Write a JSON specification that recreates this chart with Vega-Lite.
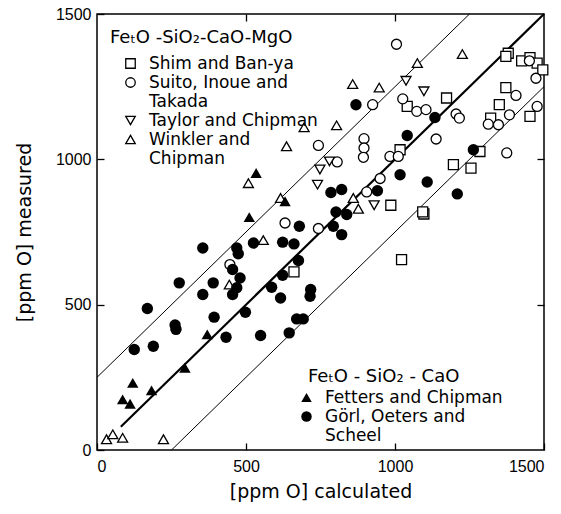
{
  "$schema": "https://vega.github.io/schema/vega-lite/v6.json",
  "width": 447,
  "height": 436,
  "autosize": "none",
  "padding": {"left": 97, "top": 14, "right": 17, "bottom": 64},
  "background": "white",
  "config": {
    "view": {"stroke": "black", "strokeWidth": 1.5},
    "font": "DejaVu Sans",
    "axis": {
      "grid": false, "domain": false, "ticks": true, "tickColor": "black", "tickOpacity": 1, "tickSize": 7, "offset": -7, "tickWidth": 1.3, "zindex": 1,
      "labelColor": "black", "labelFont": "Liberation Sans", "labelFontSize": 16, "format": "d",
      "titleColor": "black", "titleFont": "DejaVu Sans", "titleFontSize": 19, "titleFontWeight": "normal"
    },
    "legend": {
      "titleFont": "DejaVu Sans", "titleFontWeight": "normal", "titleColor": "black", "titleFontSize": 18,
      "labelFont": "DejaVu Sans", "labelColor": "black", "labelFontSize": 17, "labelLimit": 300,
      "padding": 0, "titleLimit": 300
    }
  },
  "datasets": {
    "lines": [
      {"line": "center", "x": 80, "y": 80}, {"line": "center", "x": 1500, "y": 1500},
      {"line": "upper", "x": 0, "y": 250}, {"line": "upper", "x": 1250, "y": 1500},
      {"line": "lower", "x": 250, "y": 0}, {"line": "lower", "x": 1500, "y": 1250}
    ],
    "points": [
      {"series": "Shim and Ban-ya", "x": 661, "y": 613},
      {"series": "Shim and Ban-ya", "x": 1022, "y": 655},
      {"series": "Shim and Ban-ya", "x": 1097, "y": 812},
      {"series": "Shim and Ban-ya", "x": 986, "y": 842},
      {"series": "Shim and Ban-ya", "x": 1093, "y": 819},
      {"series": "Shim and Ban-ya", "x": 1017, "y": 1033},
      {"series": "Shim and Ban-ya", "x": 1041, "y": 1182},
      {"series": "Shim and Ban-ya", "x": 1173, "y": 1211},
      {"series": "Shim and Ban-ya", "x": 1196, "y": 982},
      {"series": "Shim and Ban-ya", "x": 1255, "y": 970},
      {"series": "Shim and Ban-ya", "x": 1285, "y": 1027},
      {"series": "Shim and Ban-ya", "x": 1372, "y": 1247},
      {"series": "Shim and Ban-ya", "x": 1350, "y": 1188},
      {"series": "Shim and Ban-ya", "x": 1321, "y": 1142},
      {"series": "Shim and Ban-ya", "x": 1453, "y": 1148},
      {"series": "Shim and Ban-ya", "x": 1380, "y": 1365},
      {"series": "Shim and Ban-ya", "x": 1372, "y": 1354},
      {"series": "Shim and Ban-ya", "x": 1425, "y": 1339},
      {"series": "Shim and Ban-ya", "x": 1453, "y": 1350},
      {"series": "Shim and Ban-ya", "x": 1477, "y": 1331},
      {"series": "Shim and Ban-ya", "x": 1496, "y": 1308},
      {"series": "Suito, Inoue and Takada", "x": 631, "y": 781},
      {"series": "Suito, Inoue and Takada", "x": 743, "y": 762},
      {"series": "Suito, Inoue and Takada", "x": 446, "y": 638},
      {"series": "Suito, Inoue and Takada", "x": 1005, "y": 1396},
      {"series": "Suito, Inoue and Takada", "x": 925, "y": 1188},
      {"series": "Suito, Inoue and Takada", "x": 1026, "y": 1208},
      {"series": "Suito, Inoue and Takada", "x": 1073, "y": 1165},
      {"series": "Suito, Inoue and Takada", "x": 1104, "y": 1171},
      {"series": "Suito, Inoue and Takada", "x": 1205, "y": 1156},
      {"series": "Suito, Inoue and Takada", "x": 1216, "y": 1142},
      {"series": "Suito, Inoue and Takada", "x": 896, "y": 1071},
      {"series": "Suito, Inoue and Takada", "x": 896, "y": 1039},
      {"series": "Suito, Inoue and Takada", "x": 894, "y": 1007},
      {"series": "Suito, Inoue and Takada", "x": 743, "y": 1048},
      {"series": "Suito, Inoue and Takada", "x": 1138, "y": 1070},
      {"series": "Suito, Inoue and Takada", "x": 983, "y": 1010},
      {"series": "Suito, Inoue and Takada", "x": 1011, "y": 1010},
      {"series": "Suito, Inoue and Takada", "x": 806, "y": 991},
      {"series": "Suito, Inoue and Takada", "x": 950, "y": 934},
      {"series": "Suito, Inoue and Takada", "x": 905, "y": 888},
      {"series": "Suito, Inoue and Takada", "x": 1375, "y": 1022},
      {"series": "Suito, Inoue and Takada", "x": 1451, "y": 1339},
      {"series": "Suito, Inoue and Takada", "x": 1473, "y": 1279},
      {"series": "Suito, Inoue and Takada", "x": 1406, "y": 1220},
      {"series": "Suito, Inoue and Takada", "x": 1384, "y": 1153},
      {"series": "Suito, Inoue and Takada", "x": 1313, "y": 1121},
      {"series": "Suito, Inoue and Takada", "x": 1347, "y": 1119},
      {"series": "Suito, Inoue and Takada", "x": 1477, "y": 1182},
      {"series": "Taylor and Chipman", "x": 740, "y": 913},
      {"series": "Taylor and Chipman", "x": 1037, "y": 1270},
      {"series": "Taylor and Chipman", "x": 1097, "y": 1234},
      {"series": "Taylor and Chipman", "x": 780, "y": 993},
      {"series": "Taylor and Chipman", "x": 748, "y": 965},
      {"series": "Taylor and Chipman", "x": 930, "y": 842},
      {"series": "Winkler and Chipman", "x": 508, "y": 918},
      {"series": "Winkler and Chipman", "x": 616, "y": 867},
      {"series": "Winkler and Chipman", "x": 558, "y": 722},
      {"series": "Winkler and Chipman", "x": 444, "y": 569},
      {"series": "Winkler and Chipman", "x": 32, "y": 37},
      {"series": "Winkler and Chipman", "x": 53, "y": 54},
      {"series": "Winkler and Chipman", "x": 86, "y": 42},
      {"series": "Winkler and Chipman", "x": 223, "y": 37},
      {"series": "Winkler and Chipman", "x": 1226, "y": 1362},
      {"series": "Winkler and Chipman", "x": 1075, "y": 1331},
      {"series": "Winkler and Chipman", "x": 858, "y": 1259},
      {"series": "Winkler and Chipman", "x": 947, "y": 1247},
      {"series": "Winkler and Chipman", "x": 695, "y": 1110},
      {"series": "Winkler and Chipman", "x": 804, "y": 1117},
      {"series": "Winkler and Chipman", "x": 636, "y": 1045},
      {"series": "Winkler and Chipman", "x": 860, "y": 867},
      {"series": "Winkler and Chipman", "x": 877, "y": 830},
      {"series": "Fetters and Chipman", "x": 534, "y": 953},
      {"series": "Fetters and Chipman", "x": 631, "y": 856},
      {"series": "Fetters and Chipman", "x": 511, "y": 801},
      {"series": "Fetters and Chipman", "x": 370, "y": 398},
      {"series": "Fetters and Chipman", "x": 295, "y": 283},
      {"series": "Fetters and Chipman", "x": 120, "y": 231},
      {"series": "Fetters and Chipman", "x": 183, "y": 205},
      {"series": "Fetters and Chipman", "x": 86, "y": 174},
      {"series": "Fetters and Chipman", "x": 111, "y": 159},
      {"series": "Görl, Oeters and Scheel", "x": 785, "y": 886},
      {"series": "Görl, Oeters and Scheel", "x": 821, "y": 896},
      {"series": "Görl, Oeters and Scheel", "x": 679, "y": 770},
      {"series": "Görl, Oeters and Scheel", "x": 793, "y": 770},
      {"series": "Görl, Oeters and Scheel", "x": 802, "y": 819},
      {"series": "Görl, Oeters and Scheel", "x": 838, "y": 810},
      {"series": "Görl, Oeters and Scheel", "x": 821, "y": 741},
      {"series": "Görl, Oeters and Scheel", "x": 355, "y": 695},
      {"series": "Görl, Oeters and Scheel", "x": 469, "y": 695},
      {"series": "Görl, Oeters and Scheel", "x": 474, "y": 675},
      {"series": "Görl, Oeters and Scheel", "x": 525, "y": 712},
      {"series": "Görl, Oeters and Scheel", "x": 623, "y": 715},
      {"series": "Görl, Oeters and Scheel", "x": 661, "y": 709},
      {"series": "Görl, Oeters and Scheel", "x": 676, "y": 652},
      {"series": "Görl, Oeters and Scheel", "x": 455, "y": 621},
      {"series": "Görl, Oeters and Scheel", "x": 480, "y": 592},
      {"series": "Görl, Oeters and Scheel", "x": 455, "y": 535},
      {"series": "Görl, Oeters and Scheel", "x": 469, "y": 558},
      {"series": "Görl, Oeters and Scheel", "x": 623, "y": 601},
      {"series": "Görl, Oeters and Scheel", "x": 586, "y": 560},
      {"series": "Görl, Oeters and Scheel", "x": 616, "y": 523},
      {"series": "Görl, Oeters and Scheel", "x": 717, "y": 552},
      {"series": "Görl, Oeters and Scheel", "x": 715, "y": 529},
      {"series": "Görl, Oeters and Scheel", "x": 276, "y": 575},
      {"series": "Görl, Oeters and Scheel", "x": 390, "y": 575},
      {"series": "Görl, Oeters and Scheel", "x": 355, "y": 535},
      {"series": "Görl, Oeters and Scheel", "x": 169, "y": 487},
      {"series": "Görl, Oeters and Scheel", "x": 393, "y": 457},
      {"series": "Görl, Oeters and Scheel", "x": 498, "y": 474},
      {"series": "Görl, Oeters and Scheel", "x": 262, "y": 430},
      {"series": "Görl, Oeters and Scheel", "x": 265, "y": 415},
      {"series": "Görl, Oeters and Scheel", "x": 433, "y": 388},
      {"series": "Görl, Oeters and Scheel", "x": 549, "y": 394},
      {"series": "Görl, Oeters and Scheel", "x": 645, "y": 403},
      {"series": "Görl, Oeters and Scheel", "x": 670, "y": 451},
      {"series": "Görl, Oeters and Scheel", "x": 692, "y": 451},
      {"series": "Görl, Oeters and Scheel", "x": 125, "y": 346},
      {"series": "Görl, Oeters and Scheel", "x": 189, "y": 357},
      {"series": "Görl, Oeters and Scheel", "x": 869, "y": 1188},
      {"series": "Görl, Oeters and Scheel", "x": 1134, "y": 1144},
      {"series": "Görl, Oeters and Scheel", "x": 1041, "y": 1082},
      {"series": "Görl, Oeters and Scheel", "x": 1017, "y": 947},
      {"series": "Görl, Oeters and Scheel", "x": 1108, "y": 922},
      {"series": "Görl, Oeters and Scheel", "x": 941, "y": 892},
      {"series": "Görl, Oeters and Scheel", "x": 1263, "y": 1033},
      {"series": "Görl, Oeters and Scheel", "x": 1209, "y": 881}
    ]
  },
  "resolve": {"scale": {"shape": "independent"}, "axis": {"x": "independent", "y": "independent"}},
  "layer": [
    {
      "data": {"name": "lines"},
      "mark": {"type": "line", "color": "black"},
      "encoding": {
        "x": {"field": "x", "type": "quantitative", "scale": {"domain": [0, 1500], "nice": false},
              "axis": {"orient": "bottom", "values": [0, 500, 1000, 1500], "labelPadding": 8, "title": "[ppm O]  calculated", "titlePadding": 8}},
        "y": {"field": "y", "type": "quantitative", "scale": {"domain": [0, 1500], "nice": false},
              "axis": {"orient": "left", "values": [0, 500, 1000, 1500], "labelPadding": 6, "title": "[ppm O]  measured", "titlePadding": 21}},
        "detail": {"field": "line"},
        "strokeWidth": {"condition": {"test": "datum.line == 'center'", "value": 2.2}, "value": 1}
      }
    },
    {
      "data": {"name": "lines"},
      "mark": {"type": "line", "opacity": 0},
      "encoding": {
        "x": {"field": "x", "type": "quantitative", "axis": {"orient": "top", "values": [500, 1000], "labels": false, "title": null}},
        "y": {"field": "y", "type": "quantitative", "axis": {"orient": "right", "values": [500, 1000], "labels": false, "title": null}},
        "detail": {"field": "line"}
      }
    },
    {
      "data": {"name": "points"},
      "transform": [{"filter": "indexof(['Shim and Ban-ya','Suito, Inoue and Takada','Taylor and Chipman','Winkler and Chipman'], datum.series) >= 0"}],
      "mark": {"type": "point", "filled": true, "fill": "white", "stroke": "black", "strokeWidth": 1.3, "size": 100, "opacity": 1},
      "encoding": {
        "x": {"field": "x", "type": "quantitative", "axis": null},
        "y": {"field": "y", "type": "quantitative", "axis": null},
        "shape": {
          "field": "series", "type": "nominal",
          "scale": {"domain": ["Shim and Ban-ya", "Suito, Inoue and Takada", "Taylor and Chipman", "Winkler and Chipman"],
                    "range": ["square", "circle", "triangle-down", "triangle-up"]},
          "legend": {
            "orient": "none", "legendX": 13, "legendY": 15,
            "title": "FeₜO -SiO₂-CaO-MgO", "titlePadding": 8,
            "symbolOffset": 12, "labelOffset": 10, "rowPadding": 1, "symbolSize": 90, "symbolStrokeWidth": 1.3,
            "labelBaseline": "middle",
            "labelExpr": "datum.label == 'Suito, Inoue and Takada' ? ['Suito, Inoue and', 'Takada'] : datum.label == 'Winkler and Chipman' ? ['Winkler and', 'Chipman'] : datum.label",
            "encode": {
              "labels": {"lineHeight": {"value": 19}}
            }
          }
        }
      }
    },
    {
      "data": {"name": "points"},
      "transform": [{"filter": "indexof(['Fetters and Chipman','Görl, Oeters and Scheel'], datum.series) >= 0"}],
      "mark": {"type": "point", "filled": true, "color": "black", "size": 130, "opacity": 1},
      "encoding": {
        "x": {"field": "x", "type": "quantitative", "axis": null},
        "y": {"field": "y", "type": "quantitative", "axis": null},
        "shape": {
          "field": "series", "type": "nominal",
          "scale": {"domain": ["Fetters and Chipman", "Görl, Oeters and Scheel"], "range": ["triangle-up", "circle"]},
          "legend": {
            "orient": "none", "legendX": 211, "legendY": 354,
            "title": "FeₜO - SiO₂ - CaO", "titlePadding": 3,
            "symbolOffset": -10, "labelOffset": 10, "rowPadding": 1, "symbolSize": 110,
            "labelBaseline": "middle",
            "labelExpr": "datum.label == 'Görl, Oeters and Scheel' ? ['Görl, Oeters and', 'Scheel'] : datum.label",
            "encode": {
              "labels": {"lineHeight": {"value": 19}}
            }
          }
        }
      }
    }
  ]
}
